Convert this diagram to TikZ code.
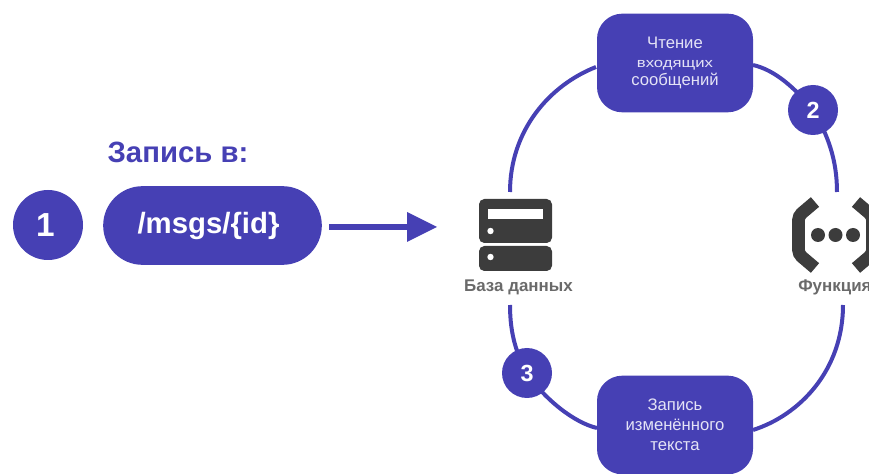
\documentclass[tikz,border=0pt]{standalone}
\usepackage{fontspec}
\usepackage{graphicx}
\setmainfont{Liberation Sans}
\definecolor{brand}{HTML}{4640B4}
\definecolor{icon}{HTML}{3C3C3C}
\definecolor{cap}{HTML}{6A6A6A}
\definecolor{pale}{HTML}{E4E3F6}
\tikzset{
  badge/.style={circle,fill=brand,text=white,inner sep=0pt,minimum size=#1,font=\fontsize{17.5}{17.5}\selectfont\bfseries},
  card/.style={rectangle,rounded corners=19pt,fill=brand,text=pale,minimum width=117pt,minimum height=74pt,inner sep=0pt,align=center,font=\fontsize{12.5}{15}\selectfont},
  ring/.style={draw=brand,line width=3pt},
  caption/.style={text=cap,font=\fontsize{12.7}{12.7}\selectfont\bfseries,inner sep=0pt}
}
\begin{document}
\begin{tikzpicture}[x=0.75pt,y=-0.75pt]
\useasboundingbox (0,0) rectangle (869,474);
\clip (0,0) rectangle (869,474);
% free ends of the ring
\coordinate (dbTop) at (510,192);
\coordinate (dbBot) at (510,305);
\coordinate (fnTop) at (837,192);
\coordinate (fnBot) at (843,305);
\coordinate (readW) at (596,67);
\coordinate (readE) at (753,65);
\coordinate (writeW) at (597,428);
\coordinate (writeE) at (753,430);
% ring
\draw[ring] (dbTop) .. controls (510,130) and (550,85) .. (readW);
\draw[ring] (readE) .. controls (775,70) and (795,88) .. (813,110);
\draw[ring] (813,110) .. controls (828,135) and (837,160) .. (fnTop);
\draw[ring] (fnBot) .. controls (843,370) and (800,415) .. (writeE);
\draw[ring] (writeW) .. controls (575,423) and (545,400) .. (527,373);
\draw[ring] (527,373) .. controls (517,355) and (510,335) .. (dbBot);
% nodes
\node[card] (read) at (675,63) {Чтение\\[-1pt]\scalebox{1}[0.8]{входящих}\\[-1pt]сообщений};
\node[card] (write) at (675,425) {Запись\\изменённого\\текста};
\node[badge=37.5pt] (two) at (813,110) {2};
\node[badge=37.5pt] (three) at (527,373) {3};
% left part
\node[badge=52.5pt,font=\fontsize{25}{25}\selectfont\bfseries] (one) at (48,225) {\hspace*{-4pt}1};
\node[rectangle,rounded corners=29.5pt,fill=brand,text=white,minimum width=164pt,minimum height=59pt,inner sep=0pt,font=\fontsize{22}{22}\selectfont\bfseries] (path) at (212.5,225.5) {\raisebox{1pt}{\hspace*{-6pt}/msgs/\{id\}}};
\node[text=brand,inner sep=0pt,font=\fontsize{22}{22}\selectfont\bfseries] (title) at (178,152) {Запись в:};
\coordinate (dbIn) at (437,227);
\coordinate (arrowStart) at (329,227);
\draw[brand,line width=3.8pt] (arrowStart) -- (410,227);
\fill[brand] (407,212) -- (dbIn) -- (407,242) -- cycle;
% database icon
\fill[icon,rounded corners=4pt] (479,199) rectangle (552,243);
\fill[icon,rounded corners=4pt] (479,246) rectangle (552,271);
\fill[white] (488,209) rectangle (543,219);
\fill[white] (490.5,231) circle (3.2);
\fill[white] (490.5,257) circle (3.2);
\node[caption] (db) at (518.5,287) {База данных};
% function icon
\draw[icon,line width=9.5pt,rounded corners=3pt] (815,202) -- (798.5,216) -- (798.5,254) -- (815,268);
\draw[icon,line width=9.5pt,rounded corners=3pt] (856,202) -- (872.5,216) -- (872.5,254) -- (856,268);
\foreach \cx in {818,835.5,853} \fill[icon] (\cx,235) circle (7);
\node[caption,anchor=west] (fn) at (798,287) {Функция};
\end{tikzpicture}
\end{document}
